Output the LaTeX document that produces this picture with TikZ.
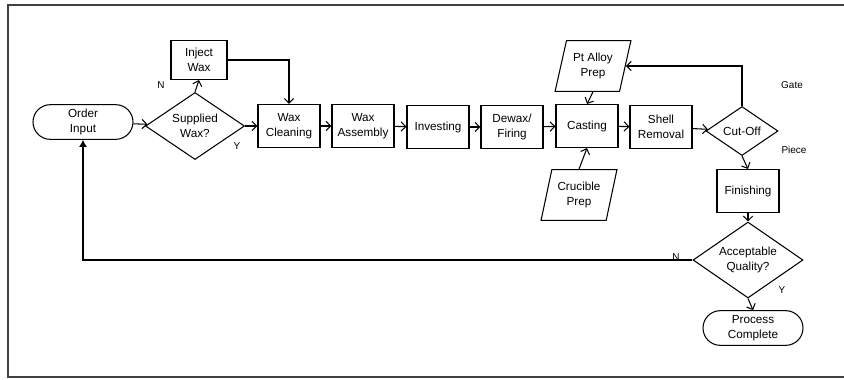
\documentclass[tikz,border=0pt]{standalone}
\usepackage{fontspec}
\setmainfont{Liberation Sans}
\usetikzlibrary{shapes.geometric,shapes.misc,arrows.meta}
\begin{document}
\begin{tikzpicture}[x=0.03cm,y=-0.03cm,line width=0.9pt]
			\tikzstyle{every node}+=[font=\fontsize{10}{13}\selectfont, align=center, inner sep=0pt]
			\tikzstyle{procbox}=[draw, rectangle, minimum width=1.86cm, minimum height=1.29cm]
			\tikzstyle{termbox}=[draw, rounded rectangle, minimum width=3cm, minimum height=1.04cm]
			\tikzstyle{decbox}=[draw, diamond, aspect=1.5]
			\tikzstyle{iobox}=[draw, trapezium, trapezium left angle=72, trapezium right angle=108, trapezium stretches=true, minimum width=2.28cm, minimum height=1.52cm]
			\tikzstyle{flow}=[-{Straight Barb[length=4pt,width=8pt]}]
			\tikzstyle{tag}=[font=\fontsize{8.5}{9}\selectfont]
			\useasboundingbox (0,0) rectangle (844,379);
			\draw [line width=1pt, black!75] (844,5) -- (8,5) -- (8,377) -- (844,377);
			\node [termbox] (order) at (83,122) {Order\\Input};
			\node [decbox, minimum width=2.97cm, minimum height=2.01cm] (sup) at (195,126) {Supplied\\Wax?};
			\node [procbox, minimum width=1.68cm, minimum height=1.17cm] (inj) at (199,60) {Inject\\Wax};
			\node [procbox] (clean) at (289,126) {Wax\\Cleaning};
			\node [procbox] (assy) at (363,126) {Wax\\Assembly};
			\node [procbox] (invest) at (438,127) {Investing};
			\node [procbox] (dewax) at (512,127) {Dewax/\\Firing};
			\node [procbox] (cast) at (587,126) {Casting};
			\node [procbox] (shell) at (661,127) {Shell\\Removal};
			\node [decbox, minimum width=2.16cm, minimum height=1.47cm] (cut) at (742,131) {Cut-Off};
			\node [iobox] (alloy) at (593,66) {Pt Alloy\\Prep};
			\node [iobox] (cruc) at (579,195) {Crucible\\Prep};
			\node [procbox] (finish) at (748,191) {Finishing};
			\node [decbox, minimum width=3.3cm, minimum height=2.28cm] (qual) at (748,260) {Acceptable\\Quality?};
			\node [termbox] (done) at (753,328) {Process\\Complete};
			\node [tag] (supn) at (161,85) {N};
			\node [tag] (supy) at (237,146) {Y};
			\node [tag] (gate) at (792,85) {Gate};
			\node [tag] (piece) at (794,150) {Piece};
			\node [tag] (qualn) at (676,257) {N};
			\node [tag] (qualy) at (782,290) {Y};
			\draw [flow] (order) -- (sup);
			\draw [flow] (sup.north) -- (inj.south);
			\draw [flow] (sup) -- (clean);
			\draw [flow] (inj.east) -| (clean.north);
			\draw [flow] (clean) -- (assy);
			\draw [flow] (assy) -- (invest);
			\draw [flow] (invest) -- (dewax);
			\draw [flow] (dewax) -- (cast);
			\draw [flow] (cast) -- (shell);
			\draw [flow] (shell) -- (cut);
			\draw [flow] (alloy.south) -- (cast.north);
			\draw [flow] (cruc.north) -- (cast.south);
			\draw [flow] (cut.north) |- (alloy.east);
			\draw [flow] (cut.south) -- (finish.north);
			\draw [flow] (finish.south) -- (qual.north);
			\draw [flow] (qual.south) -- (done.north);
			\draw [line width=2pt, -{Latex[length=6pt,width=7pt]}] (qual.west) -| (order.south);
\end{tikzpicture}
\end{document}
